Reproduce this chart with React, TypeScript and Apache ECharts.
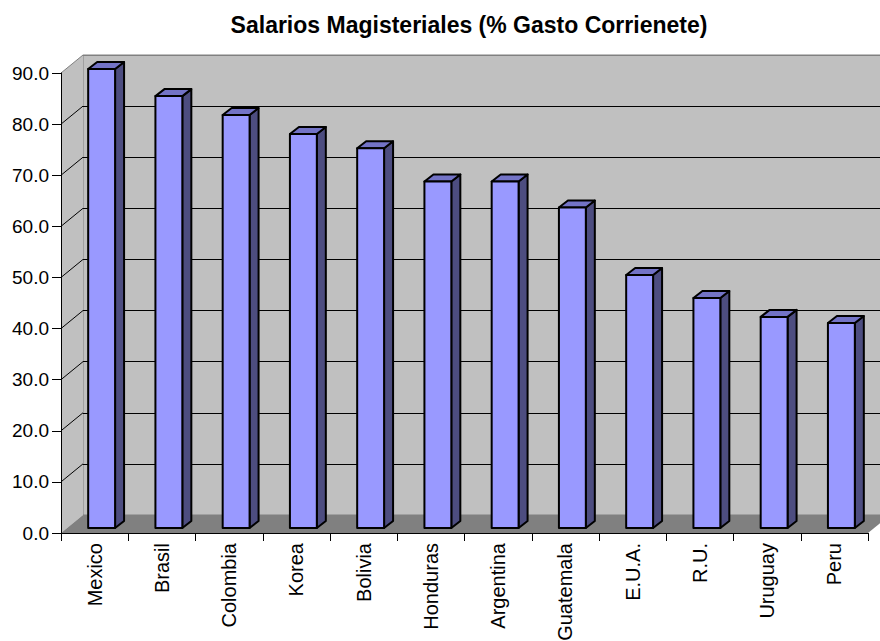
import React, { useEffect, useRef } from "react";
import * as echarts from "echarts";

const titleText = "Salarios Magisteriales (% Gasto Corrienete)";
const categories = [
  "Mexico",
  "Brasil",
  "Colombia",
  "Korea",
  "Bolivia",
  "Honduras",
  "Argentina",
  "Guatemala",
  "E.U.A.",
  "R.U.",
  "Uruguay",
  "Peru",
];
const values = [89.8, 84.5, 80.8, 77.1, 74.3, 67.8, 67.8, 62.7, 49.5, 45.0, 41.3, 40.1];
const yMin = 0;
const yMax = 90;
const yStep = 10;

// 3D look parameters (pixels)
const DEPTH_X = 22;
const DEPTH_Y = 18;
const BAR_FRONT_DX = 7;
const BAR_FRONT_DY = 5;
const BAR_DEPTH_X = 9;
const BAR_DEPTH_Y = 7;
const BAR_RATIO = 0.4;

const FONT = 'Arial, "Liberation Sans", sans-serif';

export default function App() {
  const ref = useRef<HTMLDivElement>(null);

  useEffect(() => {
    if (!ref.current) return;
    const chart = echarts.init(ref.current, undefined, { renderer: "svg" });

    const splitColors: string[] = [];
    for (let v = yMin; v <= yMax; v += yStep) {
      splitColors.push(v === yMin || v === yMax ? "#808080" : "#000000");
    }

    const option: any = {
      animation: false,
      backgroundColor: "#ffffff",
      title: {
        text: titleText,
        left: 464,
        textAlign: "center",
        top: 8,
        textStyle: { fontFamily: FONT, fontSize: 23, fontWeight: "bold", color: "#000" },
      },
      grid: [
        {
          left: 61,
          top: 73,
          width: 807,
          height: 460,
          z: 2,
          containLabel: false,
          outerBoundsMode: "none",
        },
        {
          left: 61 + DEPTH_X,
          top: 73 - DEPTH_Y,
          width: 807,
          height: 460,
          show: true,
          backgroundColor: "#C0C0C0",
          borderColor: "#808080",
          borderWidth: 1,
          z: 0,
          containLabel: false,
          outerBoundsMode: "none",
        },
      ],
      xAxis: [
        {
          type: "category",
          gridIndex: 0,
          data: categories,
          boundaryGap: true,
          z: 6,
          axisLine: { show: true, lineStyle: { color: "#000", width: 1 } },
          axisTick: { show: true, length: 8, interval: 0, lineStyle: { color: "#000" } },
          axisLabel: {
            interval: 0,
            rotate: 90,
            margin: 10,
            fontSize: 20,
            fontFamily: FONT,
            color: "#000",
          },
          splitLine: { show: false },
        },
        {
          type: "category",
          gridIndex: 1,
          data: categories,
          show: false,
        },
      ],
      yAxis: [
        {
          type: "value",
          gridIndex: 0,
          min: yMin,
          max: yMax,
          interval: yStep,
          z: 6,
          axisLine: { show: true, lineStyle: { color: "#000", width: 1 } },
          axisTick: { show: true, length: 9, lineStyle: { color: "#000" } },
          axisLabel: {
            margin: 12,
            fontSize: 19,
            fontFamily: FONT,
            color: "#000",
            formatter: (v: number) => v.toFixed(1),
          },
          splitLine: { show: false },
        },
        {
          type: "value",
          gridIndex: 1,
          min: yMin,
          max: yMax,
          interval: yStep,
          z: 1,
          axisLine: { show: false },
          axisTick: { show: false },
          axisLabel: { show: false },
          splitLine: { show: true, lineStyle: { color: splitColors, width: 1 } },
        },
      ],
      series: [
        {
          type: "custom",
          name: "walls",
          xAxisIndex: 0,
          yAxisIndex: 0,
          z: 1,
          silent: true,
          data: [[0, yMin]],
          renderItem: (params: any, api: any) => {
            const cs = params.coordSys;
            const x0 = cs.x;
            const y0 = cs.y;
            const w = cs.width;
            const h = cs.height;
            const children: any[] = [];
            children.push({
              type: "polygon",
              shape: {
                points: [
                  [x0, y0 + h],
                  [x0, y0],
                  [x0 + DEPTH_X, y0 - DEPTH_Y],
                  [x0 + DEPTH_X, y0 + h - DEPTH_Y],
                ],
              },
              style: { fill: "#C0C0C0" },
            });
            children.push({
              type: "polygon",
              shape: {
                points: [
                  [x0, y0 + h],
                  [x0 + DEPTH_X, y0 + h - DEPTH_Y],
                  [x0 + w + DEPTH_X, y0 + h - DEPTH_Y],
                  [x0 + w, y0 + h],
                ],
              },
              style: { fill: "#808080" },
            });
            for (let v = yMin + yStep; v <= yMax; v += yStep) {
              const p = api.coord([0, v]);
              children.push({
                type: "line",
                shape: { x1: x0, y1: p[1], x2: x0 + DEPTH_X, y2: p[1] - DEPTH_Y },
                style: { stroke: v === yMax ? "#808080" : "#000", lineWidth: 1 },
              });
            }
            return { type: "group", children };
          },
        },
        {
          type: "custom",
          name: "Salarios",
          xAxisIndex: 0,
          yAxisIndex: 0,
          z: 4,
          data: values.map((v, i) => [i, v]),
          encode: { x: 0, y: 1 },
          renderItem: (params: any, api: any) => {
            const i = api.value(0);
            const v = api.value(1);
            const base = api.coord([i, yMin]);
            const top = api.coord([i, v]);
            const bw = api.size([1, 0])[0] * BAR_RATIO;
            const xl = base[0] + BAR_FRONT_DX - bw / 2;
            const xr = xl + bw;
            const yb = base[1] - BAR_FRONT_DY;
            const yt = top[1] - BAR_FRONT_DY;
            const stroke = { stroke: "#000", lineWidth: 2, lineJoin: "round" };
            return {
              type: "group",
              children: [
                {
                  type: "polygon",
                  shape: {
                    points: [
                      [xr, yt],
                      [xr + BAR_DEPTH_X, yt - BAR_DEPTH_Y],
                      [xr + BAR_DEPTH_X, yb - BAR_DEPTH_Y],
                      [xr, yb],
                    ],
                  },
                  style: { fill: "#4D4D80", ...stroke },
                },
                {
                  type: "polygon",
                  shape: {
                    points: [
                      [xl, yt],
                      [xl + BAR_DEPTH_X, yt - BAR_DEPTH_Y],
                      [xr + BAR_DEPTH_X, yt - BAR_DEPTH_Y],
                      [xr, yt],
                    ],
                  },
                  style: { fill: "#7373C6", ...stroke },
                },
                {
                  type: "rect",
                  shape: { x: xl, y: yt, width: bw, height: yb - yt },
                  style: { fill: "#9999FF", ...stroke },
                },
              ],
            };
          },
        },
      ],
    };

    chart.setOption(option);
    return () => {
      chart.dispose();
    };
  }, []);

  return (
    <div
      ref={ref}
      style={{ position: "absolute", left: 0, top: 0, width: 880, height: 641 }}
    />
  );
}
